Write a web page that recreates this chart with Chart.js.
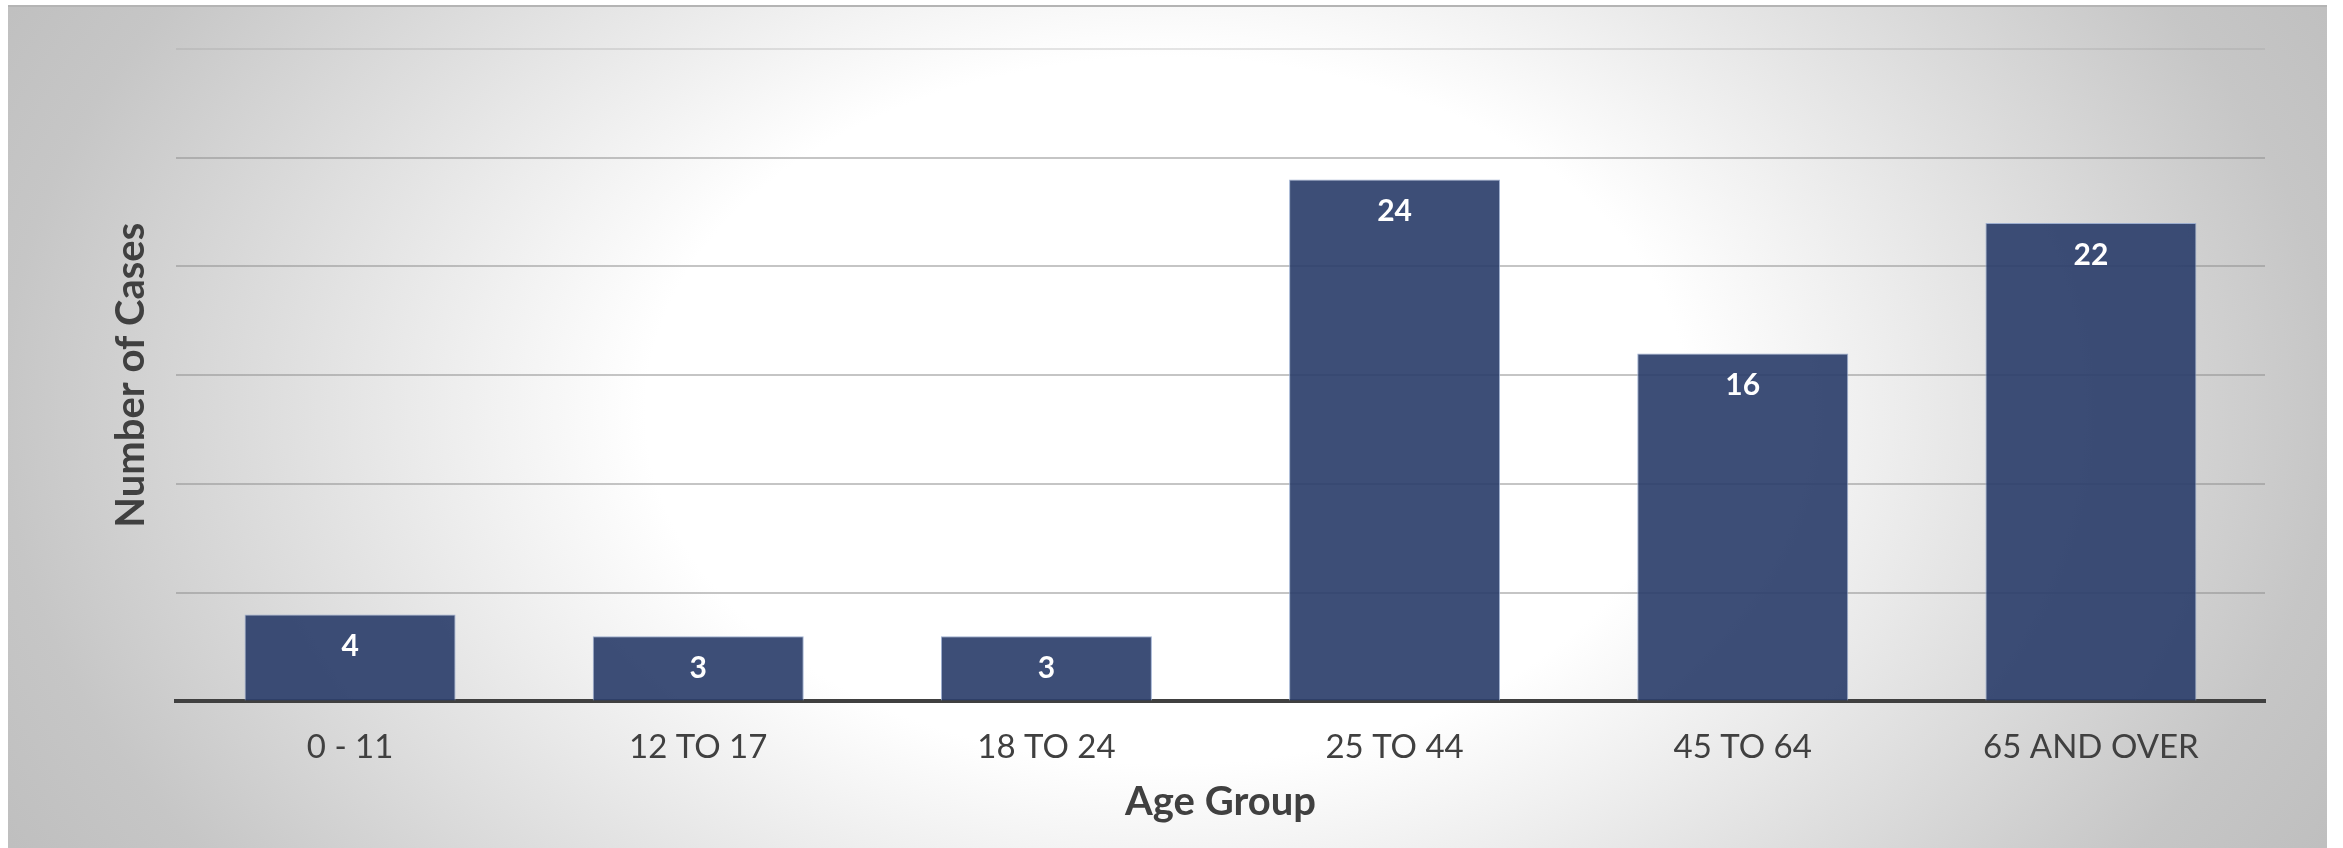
<!DOCTYPE html>
<html>
<head>
<meta charset="utf-8">
<script src="https://cdn.jsdelivr.net/npm/chart.js@4/dist/chart.umd.min.js"></script>
<style>
  html, body { margin: 0; padding: 0; background: #ffffff; }
  body { width: 2343px; height: 848px; position: relative; overflow: hidden; }
  #panel {
    position: absolute; left: 8px; top: 5px; width: 2319px; height: 843px;
    border-top: 2px solid #b4b4b4; box-sizing: border-box;
    background: radial-gradient(ellipse 75% 140% at 50% 48%, #ffffff 0%, #ffffff 30%, #c6c6c6 67%, #b8b8b8 85%, #b2b2b2 100%);
  }
  #wrap { position: absolute; left: 0; top: 0; width: 2343px; height: 848px; }
</style>
</head>
<body>
<div id="panel"></div>
<div id="wrap"><canvas id="chart"></canvas></div>
<script>
const ageGroups = ['0 - 11', '12 TO 17', '18 TO 24', '25 TO 44', '45 TO 64', '65 AND OVER'];
const caseCounts = [4, 3, 3, 24, 16, 22];
const yTicks = [0, 5, 10, 15, 20, 25, 30];

// white value labels inside the top of each bar
const barLabels = {
  id: 'barLabels',
  afterDatasetsDraw(chart) {
    const ctx = chart.ctx;
    const meta = chart.getDatasetMeta(0);
    ctx.save();
    ctx.fillStyle = '#ffffff';
    ctx.font = 'bold 30px Lato';
    ctx.textAlign = 'center';
    ctx.textBaseline = 'middle';
    meta.data.forEach((bar, i) => {
      ctx.fillText(String(caseCounts[i]), bar.x, bar.y + 32);
    });
    ctx.restore();
  }
};

new Chart(document.getElementById('chart'), {
  type: 'bar',
  data: {
    labels: ageGroups,
    datasets: [{
      data: caseCounts,
      backgroundColor: 'rgba(44, 63, 107, 0.92)',
      borderColor: 'rgba(150, 168, 205, 0.9)',
      borderWidth: 1,
      borderSkipped: 'bottom',
      categoryPercentage: 1,
      barPercentage: 0.606,
    }],
  },
  options: {
    responsive: true,
    maintainAspectRatio: false,
    animation: false,
    layout: { padding: { left: 107, right: 78, top: 49, bottom: 22 } },
    plugins: {
      legend: { display: false },
      tooltip: { enabled: false },
    },
    scales: {
      x: {
        grid: { display: false, drawTicks: false },
        border: { display: true, color: '#404040', width: 4 },
        ticks: {
          color: '#404040',
          padding: 26,
          font: { family: 'Lato', size: 33 },
        },
        title: {
          display: true,
          text: 'Age Group',
          color: '#404040',
          font: { family: 'Lato', size: 40, weight: 'bold' },
          padding: { top: -15, bottom: 0 },
        },
      },
      y: {
        min: 0,
        max: 30,
        afterBuildTicks: (scale) => { scale.ticks = yTicks.map(v => ({ value: v })); },
        ticks: { display: false },
        grid: {
          drawTicks: false,
          lineWidth: 2,
          color: (c) => c.tick && c.tick.value === 30 ? 'rgba(150,150,150,0.25)' : 'rgba(140,140,140,0.5)',
        },
        border: { display: false },
        title: {
          display: true,
          text: 'Number of Cases',
          color: '#404040',
          font: { family: 'Lato', size: 40, weight: 'bold' },
          padding: { top: 0, bottom: 21 },
        },
      },
    },
  },
  plugins: [barLabels],
});
</script>
</body>
</html>
